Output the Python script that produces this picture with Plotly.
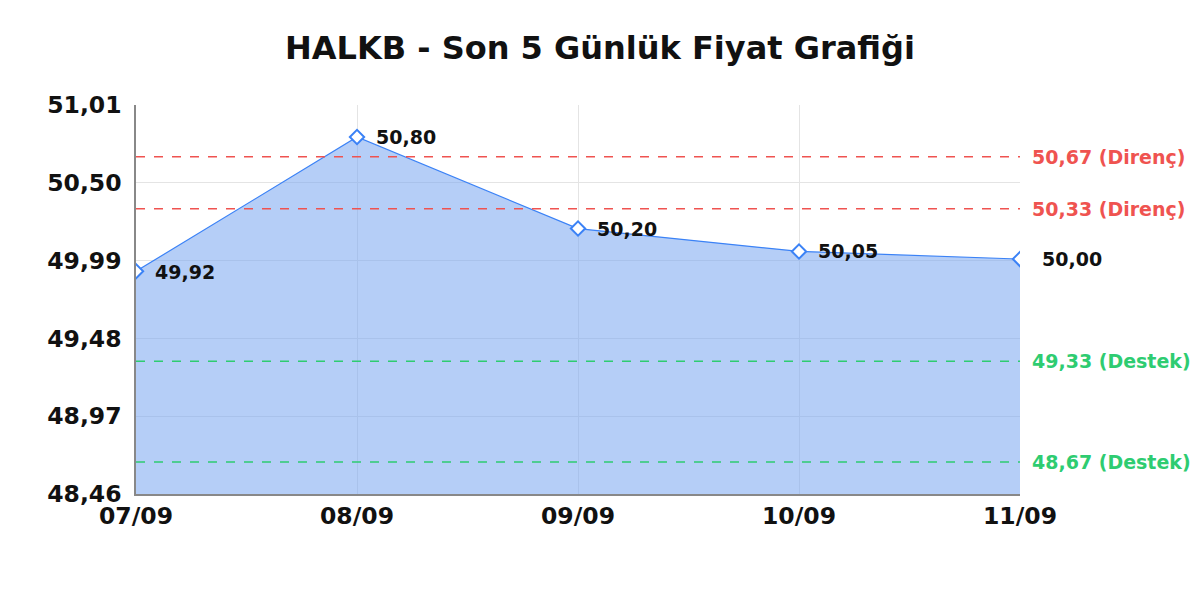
import plotly.graph_objects as go

dates = ["07/09", "08/09", "09/09", "10/09", "11/09"]
prices = [49.92, 50.80, 50.20, 50.05, 50.00]
price_labels = ["49,92", "50,80", "50,20", "50,05", "50,00"]
y_ticks = [48.46, 48.97, 49.48, 49.99, 50.50, 51.01]
y_tick_labels = ["48,46", "48,97", "49,48", "49,99", "50,50", "51,01"]
resistance = [50.67, 50.33]
resistance_labels = ["50,67 (Direnç)", "50,33 (Direnç)"]
support = [49.33, 48.67]
support_labels = ["49,33 (Destek)", "48,67 (Destek)"]

FONT = "DejaVu Sans"
BLUE = "#3b82f6"
RED = "#ef5350"
GREEN = "#2ecc71"

x_idx = list(range(len(dates)))

fig = go.Figure()
fig.add_trace(go.Scatter(
    x=x_idx, y=prices, mode="lines+markers",
    fill="tozeroy", fillcolor="rgba(120,165,240,0.55)",
    line=dict(color=BLUE, width=1.2),
    marker=dict(symbol="diamond", size=11, color="white", line=dict(width=2, color=BLUE)),
    hoverinfo="skip", showlegend=False,
))

annotations = []
for i, (p, lab) in enumerate(zip(prices, price_labels)):
    annotations.append(dict(
        x=i, y=p, xref="x", yref="y", text=lab, showarrow=False,
        xanchor="left", yanchor="middle",
        xshift=17 if i < len(prices) - 1 else 20,
        yshift=-1 if i == 0 else 0,
        font=dict(family=FONT, size=19, color="#111111", weight="bold"),
    ))

shapes = []
for vals, labs, col in [(resistance, resistance_labels, RED), (support, support_labels, GREEN)]:
    for v, lab in zip(vals, labs):
        shapes.append(dict(type="line", xref="paper", yref="y", x0=0, x1=1, y0=v, y1=v,
                           line=dict(color=col, width=1.5, dash="dash"), layer="above"))
        annotations.append(dict(
            x=1, y=v, xref="paper", yref="y", text=lab, showarrow=False,
            xanchor="left", yanchor="middle", xshift=10,
            font=dict(family=FONT, size=19, color=col, weight="bold"),
        ))

fig.update_layout(
    width=1200, height=600,
    paper_bgcolor="white", plot_bgcolor="white",
    margin=dict(l=128, r=188, t=97, b=114),
    title=dict(text="<b>HALKB - Son 5 Günlük Fiyat Grafiği</b>", x=0.4933, xanchor="center",
               y=0.933, yanchor="middle",
               font=dict(family=FONT, size=32, color="#111111")),
    shapes=shapes, annotations=annotations,
    font=dict(family=FONT),
)
fig.update_xaxes(
    range=[0, len(dates) - 1], tickvals=x_idx, ticktext=dates,
    showgrid=True, gridcolor="#e4e4e4", gridwidth=1,
    showline=True, linecolor="#888888", linewidth=1.5,
    ticks="", tickfont=dict(family=FONT, size=23.5, color="#111111", weight="bold"),
    zeroline=False,
)
fig.update_yaxes(
    range=[y_ticks[0], y_ticks[-1]], tickvals=y_ticks, ticktext=y_tick_labels,
    showgrid=True, gridcolor="#e4e4e4", gridwidth=1,
    showline=True, linecolor="#888888", linewidth=1.5,
    ticks="", ticklabelstandoff=8,
    tickfont=dict(family=FONT, size=23.5, color="#111111", weight="bold"),
    zeroline=False,
)

fig.write_html("out.html")
